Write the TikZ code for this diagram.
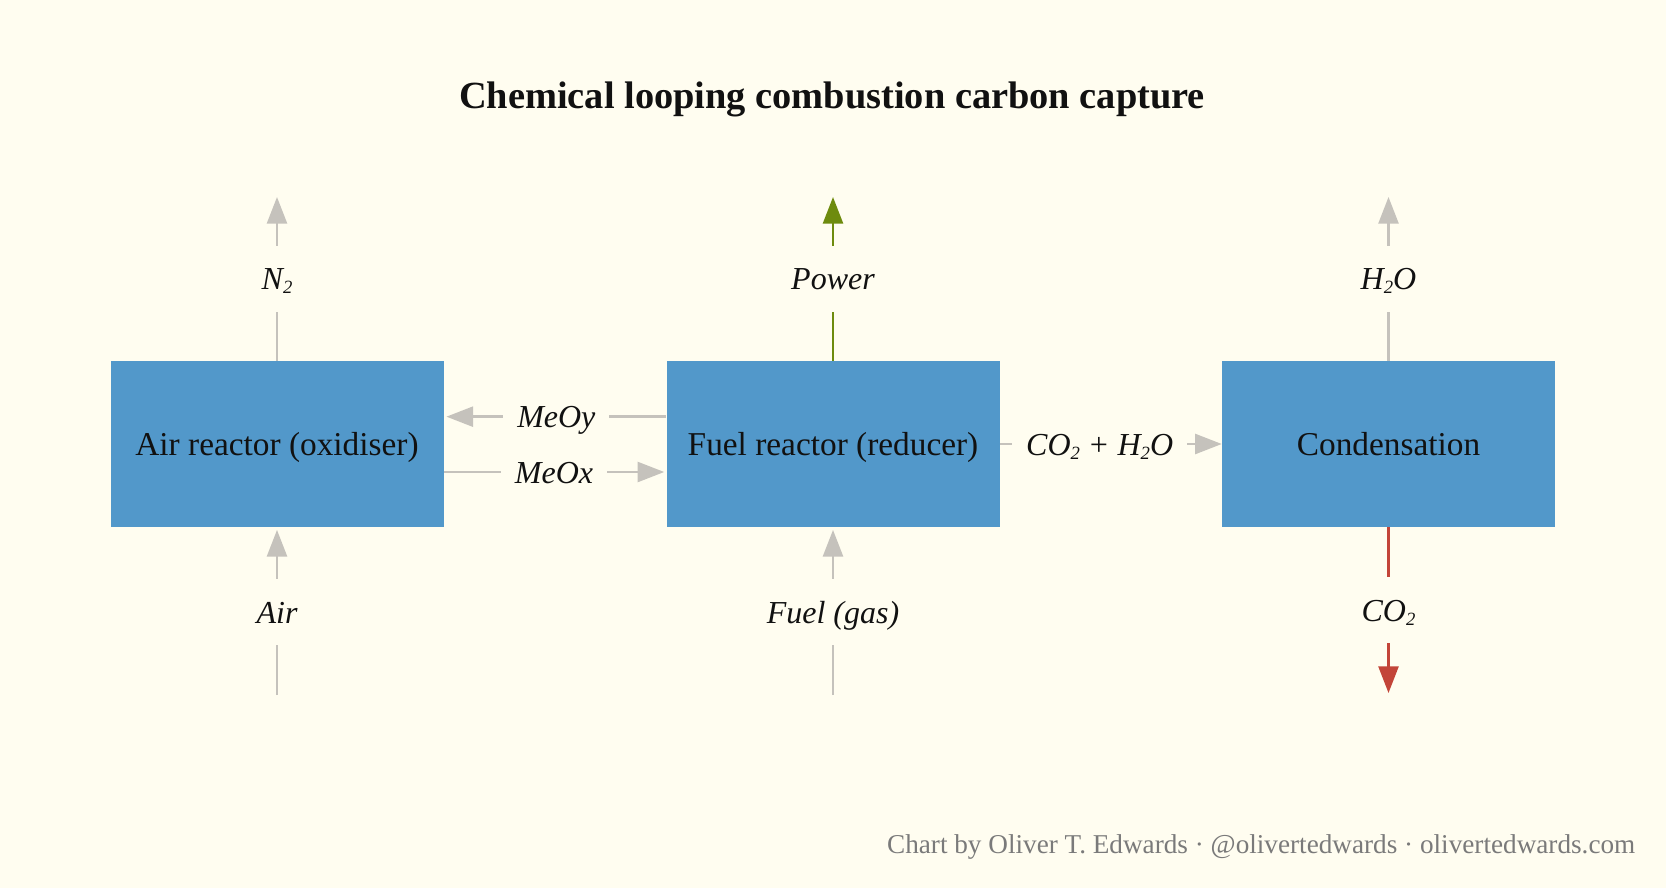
\documentclass[tikz,border=0pt]{standalone}
\usepackage{fontspec}
\setmainfont{Liberation Serif}
\usetikzlibrary{arrows.meta}
\definecolor{bg}{HTML}{FFFDF0}
\definecolor{boxblue}{HTML}{5298CA}
\definecolor{flowgray}{HTML}{C5C2BC}
\definecolor{flowgreen}{HTML}{6E8B0E}
\definecolor{flowred}{HTML}{C34539}
\definecolor{ink}{HTML}{111111}
\definecolor{creditgray}{HTML}{7A7A7A}
\newcommand{\lowtwo}{\raisebox{-3pt}{\fontsize{14}{14}\selectfont 2}}
\begin{document}
\begin{tikzpicture}[x=0.75pt,y=-0.75pt,
  box/.style={fill=boxblue, minimum width=249.75pt, minimum height=124.5pt, inner sep=0pt,
    text=ink, font=\fontsize{25}{29}\selectfont, text height=17pt, text depth=0.5pt},
  flow/.style={line width=1.9pt, draw=flowgray, -{Triangle[width=15pt,length=20pt]}},
  lab/.style={fill=bg, text=ink, font=\itshape\fontsize{24}{28}\selectfont, inner sep=0pt,
    text height=17pt, text depth=0.5pt},
  vlab/.style={lab, minimum height=49.5pt, inner xsep=3pt},
  hlab/.style={lab, inner xsep=10.5pt, minimum height=30pt}]
\fill[bg] (0,0) rectangle (1666,888);
\useasboundingbox (0,0) rectangle (1666,888);

\node[font=\bfseries\fontsize{28.8}{33}\selectfont, text=ink, anchor=base] (title) at (832,109)
  {Chemical looping combustion carbon capture};

\node[box] (air) at (277,444) {Air reactor (oxidiser)};
\node[box] (fuel) at (833,444) {Fuel reactor (reducer)};
\node[box] (cond) at (1388.5,444) {Condensation};

\coordinate (n2end) at (277,197);
\coordinate (powerend) at (833,197);
\coordinate (h2oend) at (1388.5,197);
\coordinate (airin) at (277,695);
\coordinate (fuelin) at (833,695);
\coordinate (co2end) at (1388.5,693);

\draw[flow] (air.north) -- node[vlab] (n2lab) {N\lowtwo} (n2end);
\draw[flow, draw=flowgreen, fill=flowgreen] (fuel.north) -- node[vlab] (powerlab) {Power} (powerend);
\draw[flow] (cond.north) -- node[vlab] (h2olab) {H\lowtwo O} (h2oend);

\draw[flow] (airin) -- node[vlab] (airlab) {Air} ([yshift=-2pt]air.south);
\draw[flow] (fuelin) -- node[vlab] (fuellab) {Fuel (gas)} ([yshift=-2pt]fuel.south);
\draw[flow, draw=flowred, fill=flowred] (cond.south) -- node[vlab] (co2lab) {CO\lowtwo} (co2end);

\draw[flow] ([yshift=20.5pt]fuel.west) -- node[hlab] (meoy) {MeOy} ([yshift=20.5pt,xshift=2pt]air.east);
\draw[flow] ([yshift=-21pt]air.east) -- node[hlab] (meox) {MeOx} ([yshift=-21pt,xshift=-1.5pt]fuel.west);
\draw[flow] (fuel.east) -- node[hlab, pos=0.45] (co2h2o) {CO\lowtwo{} + H\lowtwo O} (cond.west);

\node[font=\fontsize{20.4}{23}\selectfont, text=creditgray, anchor=base east] (credit) at (1640,853)
  {Chart by Oliver T. Edwards · @olivertedwards · olivertedwards.com};
\end{tikzpicture}
\end{document}
